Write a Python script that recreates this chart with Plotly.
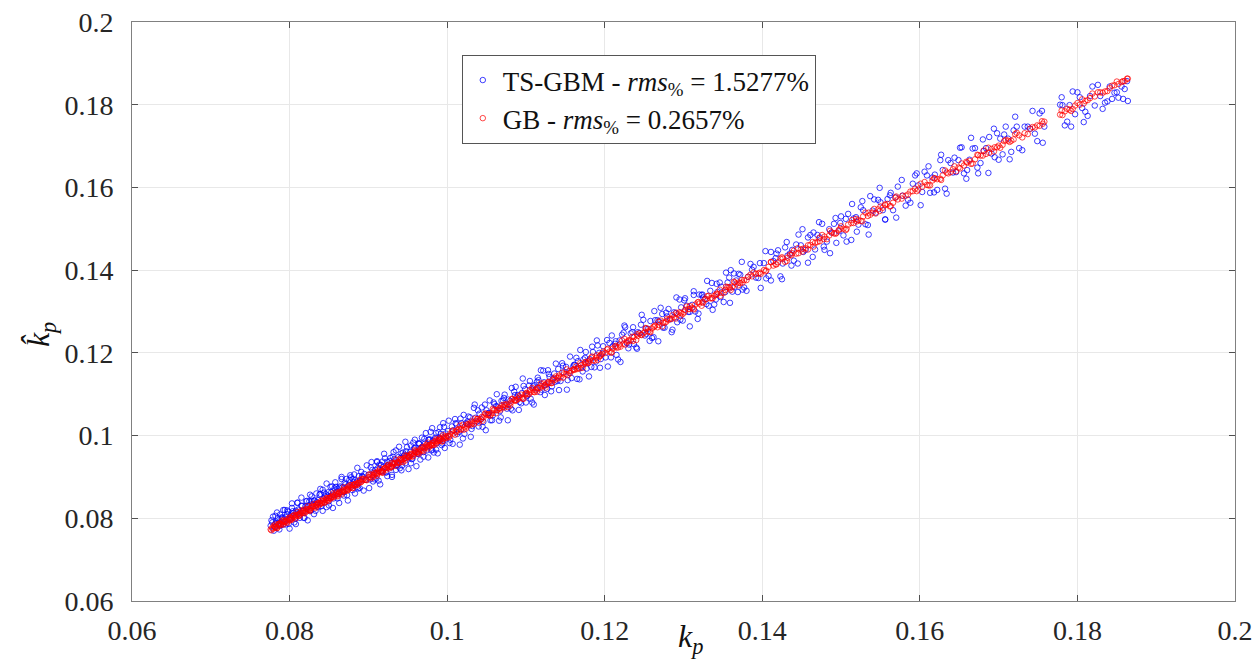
import plotly.graph_objects as go

# True k_p values of the test samples
kp = [
    0.0776, 0.0778, 0.0781, 0.0783, 0.0785, 0.0786, 0.0789, 0.0791, 0.0793, 0.0795,
    0.0798, 0.0800, 0.0802, 0.0804, 0.0807, 0.0809, 0.0811, 0.0813, 0.0816, 0.0818,
    0.0820, 0.0823, 0.0825, 0.0827, 0.0829, 0.0832, 0.0834, 0.0836, 0.0839, 0.0841,
    0.0843, 0.0846, 0.0848, 0.0850, 0.0853, 0.0855, 0.0857, 0.0860, 0.0862, 0.0864,
    0.0867, 0.0869, 0.0871, 0.0874, 0.0876, 0.0879, 0.0881, 0.0883, 0.0886, 0.0888,
    0.0890, 0.0893, 0.0895, 0.0897, 0.0900,
    0.0902, 0.0905, 0.0907, 0.0910, 0.0912, 0.0914, 0.0917, 0.0919, 0.0922, 0.0924,
    0.0926, 0.0929, 0.0931, 0.0934, 0.0936, 0.0938, 0.0941, 0.0943, 0.0946, 0.0948,
    0.0950, 0.0953, 0.0955, 0.0958, 0.0960, 0.0963, 0.0965, 0.0967, 0.0970, 0.0972,
    0.0975, 0.0977, 0.0980, 0.0982, 0.0985, 0.0987, 0.0990, 0.0992, 0.0995, 0.0998,
    0.1001, 0.1004, 0.1008, 0.1011, 0.1015, 0.1018, 0.1022, 0.1025, 0.1029, 0.1032,
    0.1036, 0.1039, 0.1043, 0.1046, 0.1050, 0.1053, 0.1057, 0.1060, 0.1064, 0.1067,
    0.1071, 0.1074, 0.1078, 0.1081, 0.1085, 0.1088, 0.1092, 0.1095, 0.1099, 0.1102,
    0.1106, 0.1109, 0.1113, 0.1116, 0.1120, 0.1123, 0.1127, 0.1130, 0.1134, 0.1137,
    0.1141, 0.1144, 0.1148, 0.1151, 0.1155, 0.1158, 0.1162, 0.1166, 0.1170, 0.1173,
    0.1177, 0.1181, 0.1185, 0.1189, 0.1193, 0.1197,
    0.1201, 0.1206, 0.1210, 0.1215, 0.1219, 0.1224, 0.1228, 0.1233, 0.1237, 0.1242,
    0.1246, 0.1251, 0.1255, 0.1260, 0.1264, 0.1269, 0.1274, 0.1278, 0.1283, 0.1288,
    0.1292, 0.1297, 0.1301, 0.1306, 0.1311, 0.1315, 0.1320, 0.1325, 0.1329, 0.1334,
    0.1339, 0.1343, 0.1348, 0.1353, 0.1358, 0.1362, 0.1367, 0.1372, 0.1377, 0.1382,
    0.1387, 0.1392, 0.1397,
    0.1402, 0.1408, 0.1414, 0.1420, 0.1426, 0.1432, 0.1437, 0.1443, 0.1449, 0.1455,
    0.1461, 0.1467, 0.1473, 0.1479, 0.1485, 0.1491, 0.1497, 0.1503, 0.1509, 0.1516,
    0.1522, 0.1528, 0.1534, 0.1540, 0.1547, 0.1553, 0.1559, 0.1566, 0.1572, 0.1578,
    0.1585, 0.1591, 0.1598,
    0.1603, 0.1609, 0.1616, 0.1622, 0.1629, 0.1636, 0.1642, 0.1649, 0.1656, 0.1663,
    0.1670, 0.1677, 0.1684, 0.1691, 0.1698, 0.1705, 0.1712, 0.1719, 0.1726, 0.1733,
    0.1740, 0.1746, 0.1752, 0.1758, 0.1778, 0.1784, 0.1790, 0.1797, 0.1803, 0.1810,
    0.1816, 0.1822, 0.1829, 0.1835, 0.1841, 0.1847, 0.1852, 0.1856, 0.1860, 0.1863,
    # second batch of samples
    0.0777, 0.0780, 0.0782, 0.0784, 0.0787, 0.0788, 0.0790, 0.0792, 0.0794, 0.0797,
    0.0799, 0.0801, 0.0803, 0.0806, 0.0808, 0.0810, 0.0812, 0.0815, 0.0817, 0.0819,
    0.0822, 0.0824, 0.0826, 0.0828, 0.0831, 0.0833, 0.0835, 0.0838, 0.0840, 0.0842,
    0.0845, 0.0847, 0.0849, 0.0852, 0.0854, 0.0856, 0.0859, 0.0861, 0.0863, 0.0866,
    0.0868, 0.0870, 0.0873, 0.0875, 0.0878, 0.0880, 0.0882, 0.0885, 0.0887, 0.0892,
    0.0903, 0.0906, 0.0909, 0.0911, 0.0913, 0.0916, 0.0918, 0.0921, 0.0923, 0.0925,
    0.0928, 0.0930, 0.0933, 0.0935, 0.0937, 0.0940, 0.0942, 0.0945, 0.0947, 0.0949,
    0.0952, 0.0954, 0.0957, 0.0959, 0.0962, 0.0964, 0.0966, 0.0969, 0.0971, 0.0974,
    0.0976, 0.0979, 0.0981, 0.0984, 0.0986, 0.0989, 0.0991, 0.0994, 0.0996, 0.0999,
    0.1003, 0.1006, 0.1010, 0.1013, 0.1017, 0.1020, 0.1024, 0.1027, 0.1031, 0.1034,
    0.1038, 0.1041, 0.1045, 0.1048, 0.1052, 0.1055, 0.1059, 0.1062, 0.1066, 0.1069,
    0.1073, 0.1076, 0.1080, 0.1083, 0.1087, 0.1090, 0.1094, 0.1097, 0.1101, 0.1104,
    0.1108, 0.1111, 0.1115, 0.1118, 0.1122, 0.1125, 0.1129, 0.1132, 0.1136, 0.1140,
    0.1146, 0.1153, 0.1160, 0.1164, 0.1168, 0.1175, 0.1179, 0.1183, 0.1191, 0.1195,
    0.1203, 0.1208, 0.1213, 0.1217, 0.1222, 0.1226, 0.1231, 0.1235, 0.1240, 0.1244,
    0.1249, 0.1253, 0.1258, 0.1262, 0.1267, 0.1271, 0.1276, 0.1281, 0.1286, 0.1290,
    0.1295, 0.1299, 0.1304, 0.1308, 0.1313, 0.1318, 0.1323, 0.1327, 0.1332, 0.1336,
    0.1341, 0.1346, 0.1351, 0.1356, 0.1360, 0.1365, 0.1370, 0.1375, 0.1385, 0.1395,
    0.1405, 0.1411, 0.1417, 0.1423, 0.1429, 0.1435, 0.1440, 0.1446, 0.1452, 0.1458,
    0.1464, 0.1470, 0.1476, 0.1482, 0.1488, 0.1494, 0.1500, 0.1506, 0.1513, 0.1519,
    0.1525, 0.1531, 0.1537, 0.1544, 0.1550, 0.1556, 0.1563, 0.1569, 0.1582, 0.1594,
    0.1606, 0.1613, 0.1619, 0.1626, 0.1632, 0.1639, 0.1646, 0.1653, 0.1660, 0.1667,
    0.1674, 0.1681, 0.1688, 0.1695, 0.1702, 0.1709, 0.1716, 0.1723, 0.1737, 0.1749,
    0.1755, 0.1781, 0.1787, 0.1794, 0.1806, 0.1813, 0.1826, 0.1838, 0.1850, 0.1858,
    # third batch of samples
    0.0779, 0.0782, 0.0784, 0.0787, 0.0790, 0.0792, 0.0795, 0.0797, 0.0800, 0.0803,
    0.0805, 0.0808, 0.0810, 0.0813, 0.0815, 0.0818, 0.0821, 0.0823, 0.0826, 0.0828,
    0.0831, 0.0834, 0.0836, 0.0839, 0.0842, 0.0844, 0.0847, 0.0850, 0.0852, 0.0855,
    0.0858, 0.0861, 0.0863, 0.0866, 0.0869, 0.0872, 0.0874, 0.0877, 0.0880, 0.0883,
    0.0886, 0.0889, 0.0891, 0.0894, 0.0898,
    0.0901, 0.0904, 0.0908, 0.0911, 0.0915, 0.0918, 0.0920, 0.0924, 0.0927, 0.0930,
    0.0932, 0.0935, 0.0939, 0.0942, 0.0944, 0.0947, 0.0951, 0.0954, 0.0956, 0.0959,
    0.0961, 0.0964, 0.0968, 0.0970, 0.0973, 0.0976, 0.0978, 0.0981, 0.0983, 0.0986,
    0.0988, 0.0991, 0.0993, 0.0995, 0.0997,
    0.1002, 0.1007, 0.1012, 0.1016, 0.1021, 0.1026, 0.1030, 0.1035, 0.1040, 0.1044,
    0.1049, 0.1054, 0.1058, 0.1063, 0.1068, 0.1072, 0.1077, 0.1082, 0.1086, 0.1091,
    0.1096, 0.1100, 0.1105, 0.1110, 0.1114, 0.1119, 0.1124, 0.1128, 0.1133, 0.1138,
    0.1142, 0.1147, 0.1152, 0.1156, 0.1161, 0.1165, 0.1169, 0.1172, 0.1176, 0.1180,
    0.1184, 0.1187, 0.1190, 0.1194, 0.1198,
    0.1204, 0.1209, 0.1214, 0.1220, 0.1225, 0.1230, 0.1236, 0.1241, 0.1247, 0.1252,
    0.1257, 0.1263, 0.1268, 0.1273, 0.1279, 0.1285, 0.1291, 0.1296, 0.1302, 0.1308,
    0.1313, 0.1319, 0.1324, 0.1330, 0.1337, 0.1342, 0.1347, 0.1354, 0.1359, 0.1364,
    0.1369, 0.1374, 0.1380, 0.1389, 0.1398,
    0.1404, 0.1411, 0.1418, 0.1425, 0.1431, 0.1438, 0.1445, 0.1451, 0.1458, 0.1465,
    0.1472, 0.1478, 0.1486, 0.1493, 0.1499, 0.1507, 0.1514, 0.1520, 0.1527, 0.1535,
    0.1542, 0.1549, 0.1556, 0.1562, 0.1570, 0.1577, 0.1588, 0.1596,
    0.1601, 0.1611, 0.1618, 0.1627, 0.1634, 0.1644, 0.1651, 0.1659, 0.1665, 0.1673,
    0.1680, 0.1687, 0.1694, 0.1700, 0.1707, 0.1714, 0.1721, 0.1730, 0.1743, 0.1756,
    0.1780, 0.1792, 0.1800, 0.1808, 0.1819, 0.1832, 0.1844, 0.1864,
]

# Estimated k_p by TS-GBM (blue)
kp_hat_tsgbm = [
    0.0782, 0.0790, 0.0778, 0.0792, 0.0800, 0.0788, 0.0783, 0.0802, 0.0797, 0.0803,
    0.0816, 0.0798, 0.0809, 0.0817, 0.0799, 0.0814, 0.0821, 0.0814, 0.0830, 0.0814,
    0.0829, 0.0826, 0.0841, 0.0820, 0.0835, 0.0843, 0.0833, 0.0844, 0.0859, 0.0836,
    0.0847, 0.0858, 0.0855, 0.0841, 0.0863, 0.0857, 0.0872, 0.0865, 0.0859, 0.0877,
    0.0875, 0.0863, 0.0882, 0.0877, 0.0893, 0.0877, 0.0887, 0.0892, 0.0876, 0.0902,
    0.0891, 0.0900, 0.0907, 0.0893, 0.0905,
    0.0894, 0.0917, 0.0910, 0.0896, 0.0921, 0.0930, 0.0915, 0.0925, 0.0911, 0.0937,
    0.0930, 0.0923, 0.0949, 0.0935, 0.0927, 0.0948, 0.0946, 0.0928, 0.0954, 0.0962,
    0.0947, 0.0960, 0.0943, 0.0969, 0.0962, 0.0956, 0.0980, 0.0971, 0.0960, 0.0981,
    0.0974, 0.0990, 0.0964, 0.0988, 0.0995, 0.0982, 0.0993, 0.1004, 0.0987, 0.1005,
    0.1011, 0.0990, 0.1013, 0.1030, 0.1009, 0.1030, 0.1004, 0.1028, 0.1044, 0.1023,
    0.1043, 0.1061, 0.1039, 0.1033, 0.1061, 0.1055, 0.1037, 0.1076, 0.1070, 0.1059,
    0.1085, 0.1072, 0.1087, 0.1065, 0.1106, 0.1092, 0.1081, 0.1103, 0.1112, 0.1097,
    0.1089, 0.1119, 0.1114, 0.1134, 0.1111, 0.1129, 0.1113, 0.1142, 0.1137, 0.1130,
    0.1161, 0.1132, 0.1153, 0.1166, 0.1152, 0.1139, 0.1171, 0.1180, 0.1164, 0.1184,
    0.1162, 0.1185, 0.1202, 0.1179, 0.1200, 0.1199,
    0.1189, 0.1224, 0.1216, 0.1195, 0.1230, 0.1249, 0.1224, 0.1247, 0.1221, 0.1250,
    0.1268, 0.1242, 0.1258, 0.1236, 0.1279, 0.1276, 0.1261, 0.1297, 0.1281, 0.1298,
    0.1274, 0.1310, 0.1327, 0.1299, 0.1316, 0.1300, 0.1341, 0.1334, 0.1318, 0.1350,
    0.1317, 0.1347, 0.1360, 0.1347, 0.1382, 0.1348, 0.1375, 0.1389, 0.1358, 0.1384,
    0.1401, 0.1382, 0.1417,
    0.1417, 0.1386, 0.1422, 0.1448, 0.1416, 0.1435, 0.1411, 0.1462, 0.1460, 0.1449,
    0.1485, 0.1450, 0.1479, 0.1449, 0.1499, 0.1512, 0.1494, 0.1484, 0.1536, 0.1525,
    0.1510, 0.1545, 0.1509, 0.1544, 0.1570, 0.1545, 0.1572, 0.1545, 0.1602, 0.1580,
    0.1570, 0.1609, 0.1605,
    0.1589, 0.1629, 0.1624, 0.1594, 0.1642, 0.1666, 0.1636, 0.1666, 0.1634, 0.1667,
    0.1695, 0.1659, 0.1695, 0.1682, 0.1731, 0.1680, 0.1718, 0.1738, 0.1695, 0.1747,
    0.1742, 0.1730, 0.1779, 0.1747, 0.1800, 0.1750, 0.1799, 0.1777, 0.1818, 0.1783,
    0.1821, 0.1798, 0.1821, 0.1805, 0.1844, 0.1829, 0.1817, 0.1844, 0.1838, 0.1857,
    # second batch of samples
    0.0795, 0.0770, 0.0806, 0.0789, 0.0773, 0.0809, 0.0799, 0.0785, 0.0820, 0.0810,
    0.0787, 0.0804, 0.0825, 0.0790, 0.0818, 0.0838, 0.0807, 0.0830, 0.0818, 0.0801,
    0.0842, 0.0831, 0.0817, 0.0853, 0.0843, 0.0818, 0.0839, 0.0857, 0.0829, 0.0869,
    0.0853, 0.0827, 0.0863, 0.0854, 0.0877, 0.0848, 0.0876, 0.0848, 0.0874, 0.0895,
    0.0864, 0.0886, 0.0856, 0.0881, 0.0899, 0.0868, 0.0906, 0.0888, 0.0872, 0.0902,
    0.0923, 0.0889, 0.0917, 0.0938, 0.0891, 0.0929, 0.0913, 0.0945, 0.0911, 0.0928,
    0.0946, 0.0905, 0.0943, 0.0964, 0.0929, 0.0921, 0.0957, 0.0951, 0.0933, 0.0972,
    0.0953, 0.0933, 0.0983, 0.0970, 0.0956, 0.0981, 0.0942, 0.0973, 0.0992, 0.0964,
    0.0990, 0.1009, 0.0966, 0.0991, 0.0966, 0.1008, 0.0993, 0.0981, 0.1021, 0.0996,
    0.0982, 0.1022, 0.1040, 0.1004, 0.1041, 0.0993, 0.1030, 0.1046, 0.1016, 0.1067,
    0.1034, 0.1053, 0.1021, 0.1075, 0.1054, 0.1037, 0.1080, 0.1071, 0.1036, 0.1084,
    0.1099, 0.1065, 0.1084, 0.1061, 0.1118, 0.1098, 0.1078, 0.1120, 0.1095, 0.1121,
    0.1080, 0.1122, 0.1140, 0.1105, 0.1157, 0.1122, 0.1149, 0.1107, 0.1150, 0.1132,
    0.1175, 0.1134, 0.1167, 0.1188, 0.1136, 0.1188, 0.1180, 0.1166, 0.1218, 0.1185,
    0.1231, 0.1189, 0.1222, 0.1184, 0.1244, 0.1262, 0.1220, 0.1250, 0.1213, 0.1248,
    0.1280, 0.1246, 0.1277, 0.1238, 0.1279, 0.1309, 0.1261, 0.1306, 0.1256, 0.1296,
    0.1329, 0.1278, 0.1314, 0.1299, 0.1340, 0.1282, 0.1340, 0.1330, 0.1314, 0.1369,
    0.1329, 0.1370, 0.1323, 0.1370, 0.1400, 0.1360, 0.1391, 0.1353, 0.1415, 0.1381,
    0.1380, 0.1444, 0.1429, 0.1385, 0.1455, 0.1440, 0.1423, 0.1486, 0.1444, 0.1479,
    0.1432, 0.1485, 0.1512, 0.1469, 0.1491, 0.1466, 0.1530, 0.1524, 0.1473, 0.1528,
    0.1552, 0.1511, 0.1579, 0.1539, 0.1564, 0.1523, 0.1587, 0.1576, 0.1556, 0.1629,
    0.1638, 0.1587, 0.1631, 0.1666, 0.1597, 0.1659, 0.1637, 0.1697, 0.1642, 0.1694,
    0.1634, 0.1688, 0.1722, 0.1673, 0.1718, 0.1747, 0.1686, 0.1747, 0.1747, 0.1712,
    0.1785, 0.1799, 0.1759, 0.1832, 0.1792, 0.1773, 0.1848, 0.1808, 0.1830, 0.1814,
    # third batch of samples
    0.0804, 0.0787, 0.0814, 0.0782, 0.0802, 0.0820, 0.0785, 0.0819, 0.0775, 0.0836,
    0.0813, 0.0786, 0.0837, 0.0801, 0.0850, 0.0801, 0.0841, 0.0795, 0.0857, 0.0842,
    0.0810, 0.0860, 0.0827, 0.0871, 0.0818, 0.0862, 0.0884, 0.0831, 0.0876, 0.0825,
    0.0887, 0.0871, 0.0837, 0.0900, 0.0855, 0.0895, 0.0843, 0.0904, 0.0895, 0.0860,
    0.0922, 0.0873, 0.0912, 0.0867, 0.0928,
    0.0873, 0.0936, 0.0894, 0.0936, 0.0882, 0.0937, 0.0956, 0.0902, 0.0938, 0.0900,
    0.0960, 0.0917, 0.0973, 0.0916, 0.0959, 0.0985, 0.0919, 0.0976, 0.0944, 0.0990,
    0.0926, 0.0981, 0.0995, 0.0949, 0.1006, 0.0947, 0.0991, 0.1018, 0.0959, 0.1006,
    0.0957, 0.1020, 0.0977, 0.1030, 0.0970,
    0.1036, 0.0980, 0.1027, 0.0978, 0.1050, 0.1034, 0.0997, 0.1075, 0.1022, 0.1068,
    0.1013, 0.1085, 0.1049, 0.1100, 0.1044, 0.1091, 0.1037, 0.1115, 0.1098, 0.1062,
    0.1138, 0.1080, 0.1132, 0.1075, 0.1130, 0.1158, 0.1098, 0.1158, 0.1119, 0.1174,
    0.1110, 0.1169, 0.1111, 0.1191, 0.1171, 0.1137, 0.1207, 0.1155, 0.1202, 0.1143,
    0.1215, 0.1165, 0.1230, 0.1164, 0.1216,
    0.1167, 0.1242, 0.1228, 0.1178, 0.1266, 0.1211, 0.1262, 0.1210, 0.1292, 0.1259,
    0.1229, 0.1301, 0.1228, 0.1294, 0.1288, 0.1250, 0.1334, 0.1280, 0.1332, 0.1264,
    0.1349, 0.1295, 0.1341, 0.1374, 0.1304, 0.1367, 0.1335, 0.1394, 0.1321, 0.1392,
    0.1347, 0.1420, 0.1350, 0.1408, 0.1357,
    0.1446, 0.1375, 0.1440, 0.1378, 0.1468, 0.1449, 0.1416, 0.1499, 0.1418, 0.1491,
    0.1516, 0.1457, 0.1441, 0.1526, 0.1514, 0.1469, 0.1560, 0.1493, 0.1567, 0.1486,
    0.1571, 0.1599, 0.1522, 0.1581, 0.1527, 0.1618, 0.1563, 0.1634,
    0.1557, 0.1651, 0.1588, 0.1679, 0.1585, 0.1672, 0.1696, 0.1621, 0.1720, 0.1648,
    0.1716, 0.1635, 0.1742, 0.1667, 0.1728, 0.1668, 0.1771, 0.1690, 0.1785, 0.1708,
    0.1818, 0.1747, 0.1830, 0.1758, 0.1844, 0.1790, 0.1814, 0.1809,
]

# Estimated k_p by GB (red)
kp_hat_gb = [
    0.0773, 0.0777, 0.0779, 0.0779, 0.0783, 0.0786, 0.0786, 0.0790, 0.0791, 0.0792,
    0.0797, 0.0796, 0.0800, 0.0805, 0.0804, 0.0807, 0.0810, 0.0810, 0.0814, 0.0818,
    0.0817, 0.0822, 0.0821, 0.0825, 0.0828, 0.0829, 0.0832, 0.0837, 0.0837, 0.0838,
    0.0842, 0.0844, 0.0844, 0.0849, 0.0851, 0.0852, 0.0857, 0.0858, 0.0859, 0.0863,
    0.0865, 0.0865, 0.0870, 0.0871, 0.0874, 0.0880, 0.0879, 0.0880, 0.0885, 0.0886,
    0.0887, 0.0892, 0.0893, 0.0893, 0.0899,
    0.0900, 0.0904, 0.0904, 0.0910, 0.0910, 0.0913, 0.0914, 0.0917, 0.0922, 0.0923,
    0.0924, 0.0926, 0.0932, 0.0932, 0.0935, 0.0935, 0.0941, 0.0941, 0.0945, 0.0946,
    0.0951, 0.0950, 0.0954, 0.0956, 0.0960, 0.0961, 0.0964, 0.0964, 0.0971, 0.0971,
    0.0973, 0.0977, 0.0977, 0.0981, 0.0983, 0.0988, 0.0988, 0.0991, 0.0992, 0.0998,
    0.0999, 0.1004, 0.1005, 0.1010, 0.1016, 0.1016, 0.1021, 0.1022, 0.1029, 0.1030,
    0.1035, 0.1040, 0.1040, 0.1044, 0.1050, 0.1052, 0.1054, 0.1061, 0.1062, 0.1066,
    0.1069, 0.1074, 0.1075, 0.1080, 0.1086, 0.1086, 0.1091, 0.1092, 0.1099, 0.1100,
    0.1105, 0.1111, 0.1110, 0.1115, 0.1120, 0.1121, 0.1126, 0.1127, 0.1135, 0.1135,
    0.1140, 0.1141, 0.1148, 0.1149, 0.1156, 0.1157, 0.1159, 0.1164, 0.1170, 0.1172,
    0.1175, 0.1182, 0.1182, 0.1188, 0.1191, 0.1197,
    0.1200, 0.1203, 0.1210, 0.1213, 0.1220, 0.1222, 0.1227, 0.1230, 0.1238, 0.1241,
    0.1244, 0.1251, 0.1252, 0.1259, 0.1266, 0.1267, 0.1273, 0.1275, 0.1283, 0.1286,
    0.1293, 0.1296, 0.1298, 0.1306, 0.1309, 0.1317, 0.1319, 0.1322, 0.1330, 0.1332,
    0.1338, 0.1343, 0.1345, 0.1352, 0.1359, 0.1360, 0.1367, 0.1369, 0.1376, 0.1384,
    0.1385, 0.1391, 0.1394,
    0.1400, 0.1408, 0.1411, 0.1419, 0.1428, 0.1430, 0.1436, 0.1440, 0.1450, 0.1453,
    0.1461, 0.1466, 0.1470, 0.1481, 0.1484, 0.1489, 0.1497, 0.1500, 0.1510, 0.1514,
    0.1521, 0.1530, 0.1531, 0.1539, 0.1547, 0.1551, 0.1560, 0.1563, 0.1571, 0.1580,
    0.1583, 0.1591, 0.1595,
    0.1602, 0.1606, 0.1617, 0.1620, 0.1629, 0.1634, 0.1644, 0.1648, 0.1653, 0.1664,
    0.1668, 0.1677, 0.1681, 0.1693, 0.1697, 0.1703, 0.1713, 0.1716, 0.1726, 0.1731,
    0.1742, 0.1745, 0.1749, 0.1759, 0.1776, 0.1784, 0.1788, 0.1798, 0.1800, 0.1809,
    0.1816, 0.1820, 0.1830, 0.1832, 0.1840, 0.1847, 0.1850, 0.1855, 0.1857, 0.1863,
    # second batch of samples
    0.0771, 0.0782, 0.0778, 0.0776, 0.0787, 0.0783, 0.0793, 0.0785, 0.0793, 0.0792,
    0.0800, 0.0795, 0.0800, 0.0808, 0.0800, 0.0808, 0.0807, 0.0819, 0.0813, 0.0812,
    0.0822, 0.0821, 0.0820, 0.0831, 0.0829, 0.0825, 0.0834, 0.0833, 0.0842, 0.0838,
    0.0839, 0.0848, 0.0842, 0.0849, 0.0854, 0.0851, 0.0862, 0.0855, 0.0861, 0.0858,
    0.0869, 0.0866, 0.0867, 0.0877, 0.0875, 0.0873, 0.0882, 0.0880, 0.0885, 0.0895,
    0.0906, 0.0900, 0.0908, 0.0903, 0.0915, 0.0912, 0.0911, 0.0921, 0.0918, 0.0929,
    0.0925, 0.0924, 0.0934, 0.0927, 0.0935, 0.0943, 0.0937, 0.0944, 0.0940, 0.0951,
    0.0948, 0.0954, 0.0951, 0.0962, 0.0959, 0.0956, 0.0967, 0.0964, 0.0969, 0.0978,
    0.0969, 0.0978, 0.0977, 0.0986, 0.0980, 0.0989, 0.0988, 0.0986, 0.0997, 0.0994,
    0.0998, 0.1010, 0.1002, 0.1014, 0.1014, 0.1026, 0.1017, 0.1026, 0.1034, 0.1028,
    0.1040, 0.1037, 0.1036, 0.1053, 0.1050, 0.1049, 0.1062, 0.1054, 0.1066, 0.1073,
    0.1068, 0.1077, 0.1073, 0.1089, 0.1084, 0.1089, 0.1099, 0.1089, 0.1103, 0.1100,
    0.1115, 0.1105, 0.1115, 0.1115, 0.1126, 0.1116, 0.1130, 0.1127, 0.1139, 0.1138,
    0.1152, 0.1146, 0.1159, 0.1168, 0.1162, 0.1177, 0.1175, 0.1188, 0.1183, 0.1195,
    0.1208, 0.1201, 0.1215, 0.1213, 0.1230, 0.1220, 0.1231, 0.1239, 0.1231, 0.1247,
    0.1247, 0.1259, 0.1250, 0.1263, 0.1262, 0.1278, 0.1273, 0.1280, 0.1291, 0.1283,
    0.1298, 0.1294, 0.1312, 0.1306, 0.1307, 0.1322, 0.1314, 0.1329, 0.1338, 0.1332,
    0.1340, 0.1353, 0.1345, 0.1359, 0.1352, 0.1370, 0.1370, 0.1370, 0.1389, 0.1392,
    0.1399, 0.1419, 0.1414, 0.1428, 0.1420, 0.1437, 0.1447, 0.1441, 0.1452, 0.1450,
    0.1468, 0.1468, 0.1485, 0.1475, 0.1491, 0.1490, 0.1506, 0.1497, 0.1514, 0.1524,
    0.1519, 0.1539, 0.1534, 0.1537, 0.1554, 0.1557, 0.1555, 0.1575, 0.1580, 0.1597,
    0.1613, 0.1605, 0.1622, 0.1621, 0.1641, 0.1637, 0.1639, 0.1658, 0.1660, 0.1658,
    0.1678, 0.1689, 0.1684, 0.1697, 0.1696, 0.1715, 0.1713, 0.1732, 0.1729, 0.1750,
    0.1760, 0.1775, 0.1790, 0.1790, 0.1813, 0.1811, 0.1830, 0.1833, 0.1856, 0.1857,
    # third batch of samples
    0.0775, 0.0785, 0.0777, 0.0787, 0.0785, 0.0796, 0.0793, 0.0789, 0.0802, 0.0797,
    0.0806, 0.0805, 0.0815, 0.0806, 0.0814, 0.0821, 0.0816, 0.0829, 0.0818, 0.0826,
    0.0835, 0.0828, 0.0836, 0.0835, 0.0845, 0.0837, 0.0849, 0.0849, 0.0847, 0.0860,
    0.0855, 0.0853, 0.0864, 0.0862, 0.0875, 0.0870, 0.0868, 0.0880, 0.0873, 0.0883,
    0.0881, 0.0893, 0.0888, 0.0896, 0.0892,
    0.0906, 0.0897, 0.0910, 0.0907, 0.0921, 0.0910, 0.0920, 0.0927, 0.0921, 0.0934,
    0.0930, 0.0942, 0.0934, 0.0943, 0.0936, 0.0952, 0.0948, 0.0956, 0.0949, 0.0965,
    0.0960, 0.0959, 0.0972, 0.0962, 0.0976, 0.0983, 0.0974, 0.0982, 0.0977, 0.0991,
    0.0986, 0.0994, 0.0986, 0.1001, 0.0994,
    0.0996, 0.1012, 0.1009, 0.1024, 0.1014, 0.1028, 0.1026, 0.1041, 0.1031, 0.1045,
    0.1053, 0.1048, 0.1065, 0.1061, 0.1063, 0.1075, 0.1069, 0.1088, 0.1085, 0.1095,
    0.1089, 0.1102, 0.1110, 0.1106, 0.1106, 0.1126, 0.1121, 0.1129, 0.1127, 0.1143,
    0.1145, 0.1140, 0.1160, 0.1151, 0.1161, 0.1161, 0.1175, 0.1164, 0.1178, 0.1177,
    0.1191, 0.1181, 0.1194, 0.1192, 0.1203,
    0.1210, 0.1201, 0.1217, 0.1215, 0.1234, 0.1228, 0.1229, 0.1245, 0.1243, 0.1260,
    0.1251, 0.1264, 0.1275, 0.1264, 0.1282, 0.1282, 0.1297, 0.1289, 0.1304, 0.1313,
    0.1305, 0.1323, 0.1322, 0.1337, 0.1332, 0.1343, 0.1338, 0.1360, 0.1356, 0.1372,
    0.1363, 0.1376, 0.1376, 0.1394, 0.1391,
    0.1397, 0.1420, 0.1414, 0.1431, 0.1422, 0.1441, 0.1453, 0.1445, 0.1460, 0.1457,
    0.1477, 0.1475, 0.1495, 0.1488, 0.1500, 0.1500, 0.1521, 0.1518, 0.1518, 0.1539,
    0.1548, 0.1543, 0.1559, 0.1554, 0.1578, 0.1573, 0.1590, 0.1591,
    0.1609, 0.1605, 0.1622, 0.1618, 0.1636, 0.1651, 0.1646, 0.1662, 0.1657, 0.1679,
    0.1677, 0.1696, 0.1687, 0.1701, 0.1712, 0.1710, 0.1729, 0.1721, 0.1746, 0.1754,
    0.1786, 0.1785, 0.1804, 0.1803, 0.1827, 0.1829, 0.1846, 0.1863,
]

series_names = [
    "TS-GBM - <i>rms</i><sub>%</sub> = 1.5277%",
    "GB - <i>rms</i><sub>%</sub> = 0.2657%",
]
x_ticks = [0.06, 0.08, 0.1, 0.12, 0.14, 0.16, 0.18, 0.2]
x_ticklabels = ["0.06", "0.08", "0.1", "0.12", "0.14", "0.16", "0.18", "0.2"]
y_ticks = [0.06, 0.08, 0.1, 0.12, 0.14, 0.16, 0.18, 0.2]
y_ticklabels = ["0.06", "0.08", "0.1", "0.12", "0.14", "0.16", "0.18", "0.2"]
x_title = "<i>k</i><sub><i>p</i></sub>"
y_title = "<i>k\u0302</i><sub><i>p</i></sub>"

FONT = "Liberation Serif"

fig = go.Figure()
fig.add_trace(go.Scatter(
    x=kp, y=kp_hat_tsgbm, mode="markers", name=series_names[0],
    marker=dict(symbol="circle-open", size=5.5, color="rgb(0,0,255)",
                opacity=0.75, line=dict(width=1, color="rgb(0,0,255)")),
))
fig.add_trace(go.Scatter(
    x=kp, y=kp_hat_gb, mode="markers", name=series_names[1],
    marker=dict(symbol="circle-open", size=5.5, color="rgb(255,0,0)",
                opacity=0.72, line=dict(width=1, color="rgb(255,0,0)")),
))

axis_common = dict(
    showline=True, linecolor="#808080", linewidth=1, mirror="ticks",
    ticks="inside", ticklen=6, tickcolor="#505050", tickwidth=1,
    showgrid=True, gridcolor="#e8e8e8", gridwidth=1, zeroline=False,
    tickfont=dict(family=FONT, size=28, color="#262626"),
    automargin=False, ticklabeloverflow="allow",
)

# The page body has an 8px margin, so the figure is sized/placed to compensate.
fig.update_layout(
    width=1252, height=661,
    paper_bgcolor="white", plot_bgcolor="white",
    margin=dict(l=124, r=25, t=14, b=68),
    showlegend=True,
    legend=dict(
        x=0.299, y=0.943, xanchor="left", yanchor="top",
        bgcolor="white", bordercolor="#555555", borderwidth=1,
        font=dict(family=FONT, size=27, color="#111111"),
        itemwidth=30, tracegroupgap=0,
    ),
    xaxis=dict(range=[0.06, 0.2], tickvals=x_ticks, ticktext=x_ticklabels,
               ticklabelstandoff=4, **axis_common),
    yaxis=dict(range=[0.06, 0.2], tickvals=y_ticks, ticktext=y_ticklabels,
               ticklabelstandoff=12, **axis_common),
    annotations=[
        dict(text=x_title, xref="paper", yref="paper", x=0.506, y=-0.064,
             xanchor="center", yanchor="middle", showarrow=False,
             font=dict(family=FONT, size=32, color="#111111")),
        dict(text=y_title, xref="paper", yref="paper", x=-0.083, y=0.46,
             xanchor="center", yanchor="middle", showarrow=False, textangle=-90,
             font=dict(family=FONT, size=32, color="#111111")),
    ],
)

fig.write_html("out.html")
